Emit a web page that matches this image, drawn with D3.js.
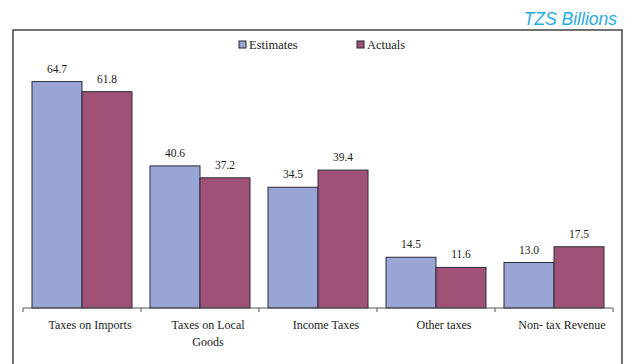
<!DOCTYPE html>
<html><head><meta charset="utf-8">
<script src="https://cdn.jsdelivr.net/npm/d3@7"></script>
<style>body{margin:0;background:#fff}svg{display:block}
.serif{font-family:"Liberation Serif","Times New Roman",Times,"DejaVu Serif",serif}</style>
</head><body>
<script>
const categories = [["Taxes on Imports"], ["Taxes on Local", "Goods"], ["Income Taxes"], ["Other taxes"], ["Non- tax Revenue"]];
const seriesNames = ["Estimates", "Actuals"];
const estimates = [64.7, 40.6, 34.5, 14.5, 13.0];
const actuals = [61.8, 37.2, 39.4, 11.6, 17.5];
const colors = ["#99A5D5", "#A05276"];

const W = 633, H = 364;
const svg = d3.select("body").append("svg").attr("width", W).attr("height", H);

// frame
svg.append("rect").attr("x", 13).attr("y", 30).attr("width", 609).attr("height", 360)
  .attr("fill", "none").attr("stroke", "#444").attr("stroke-width", 1.5);

svg.append("text").attr("x", 617).attr("y", 25).attr("text-anchor", "end")
  .style("font-family", "'Liberation Sans', Arial, sans-serif").attr("font-style", "italic")
  .attr("font-size", 17.5).attr("fill", "#29ABE2").text("TZS Billions");

const x0 = d3.scaleBand().domain(d3.range(categories.length)).range([23, 613]).paddingInner(0).paddingOuter(0);
const x1 = d3.scaleBand().domain([0, 1]).range([9, x0.bandwidth() - 9]);
const y = d3.scaleLinear().domain([0, 70]).range([308, 63]);

const data = categories.map((c, i) => ({c, vals: [estimates[i], actuals[i]]}));

const g = svg.append("g");
const groups = g.selectAll("g.cat").data(data).join("g").attr("transform", (d, i) => `translate(${x0(i)},0)`);
groups.selectAll("rect").data(d => d.vals).join("rect")
  .attr("x", (d, j) => x1(j)).attr("y", d => y(d))
  .attr("width", x1.bandwidth()).attr("height", d => y(0) - y(d))
  .attr("fill", (d, j) => colors[j]).attr("stroke", "#2a2a3a").attr("stroke-width", 1);
groups.selectAll("text.val").data(d => d.vals).join("text").attr("class", "val serif")
  .attr("x", (d, j) => x1(j) + x1.bandwidth() / 2).attr("y", d => y(d) - 9)
  .attr("text-anchor", "middle")
  .attr("font-size", 11.5).attr("fill", "#222").text(d => d.toFixed(1));

// axis
const axis = d3.axisBottom(x0).tickSize(0).tickFormat("");
const ax = svg.append("g").attr("transform", "translate(0,308)").call(axis);
ax.select(".domain").attr("stroke", "#555").attr("d", "M23,0H613");
const tickPos = d3.range(categories.length + 1).map(i => i < categories.length ? x0(i) : x0.range()[1]);
ax.selectAll("line.tk").data(tickPos).join("line").attr("class", "tk")
  .attr("x1", d => d).attr("x2", d => d).attr("y1", 0).attr("y2", 4).attr("stroke", "#555");

const labels = svg.append("g").selectAll("text").data(categories).join("text")
  .attr("class", "serif")
  .attr("x", (d, i) => x0(i) + x0.bandwidth() / 2 + 8).attr("y", 329)
  .attr("text-anchor", "middle")
  .attr("font-size", 12).attr("fill", "#222");
labels.selectAll("tspan").data(d => d).join("tspan")
  .attr("x", function() { return this.parentNode.getAttribute("x"); })
  .attr("dy", (d, k) => k === 0 ? 0 : 17).text(d => d);

// legend
const legX = [239, 357];
const leg = svg.append("g").selectAll("g").data(seriesNames).join("g")
  .attr("transform", (d, i) => `translate(${legX[i]},41)`);
leg.append("rect").attr("width", 7).attr("height", 7).attr("fill", (d, i) => colors[i])
  .attr("stroke", "#222").attr("stroke-width", 1);
leg.append("text").attr("class", "serif").attr("x", 10).attr("y", 7.5)
  .attr("font-size", 12.5).attr("fill", "#222").text(d => d);
</script>
</body></html>
